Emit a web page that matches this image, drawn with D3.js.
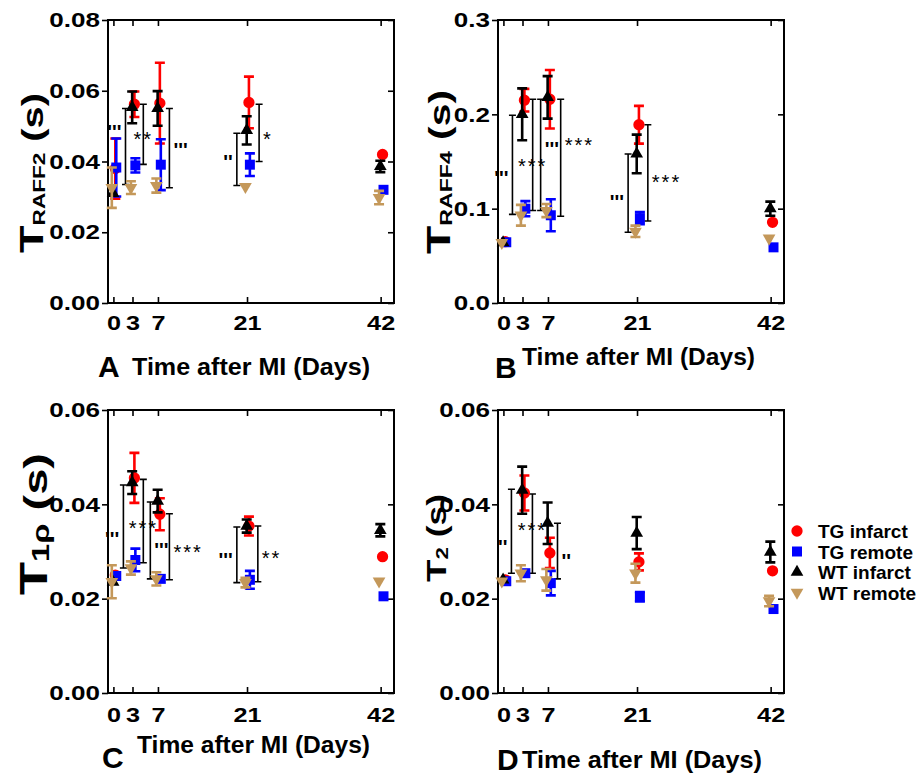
<!DOCTYPE html>
<html lang="en">
<head>
<meta charset="utf-8">
<title>Relaxation times after MI</title>
<script src="https://cdn.jsdelivr.net/npm/d3@7"></script>
<style>
  body { margin: 0; background: #fff; }
  text { font-family: "Liberation Sans", Arial, Helvetica, sans-serif; }
</style>
</head>
<body>
<script>
// ---- data ----
var days = [0, 3, 7, 21, 42];
var seriesNames = ["TG infarct", "TG remote", "WT infarct", "WT remote"];
var seriesColors = ["#ff0000", "#0000ff", "#000000", "#c4985a"];
var seriesShift = [0.3, 0.45, -0.05, -0.25]; // small horizontal jitter (days)

// A: T_RAFF2
var raff2TGinf = [0.038, 0.0562, 0.0565, 0.0567, 0.042];
var raff2TGinfErr = [0.0085, 0.0036, 0.0114, 0.0073, 0];
var raff2TGrem = [0.0383, 0.0389, 0.0391, 0.0391, 0.032];
var raff2TGremErr = [0.0082, 0.002, 0.0072, 0.0032, 0];
var raff2WTinf = [0.031, 0.0553, 0.055, 0.0488, 0.0386];
var raff2WTinfErr = [0, 0.0045, 0.0049, 0.004, 0.0016];
var raff2WTrem = [0.0326, 0.0326, 0.0332, 0.0329, 0.0298];
var raff2WTremErr = [0.0057, 0.0018, 0.002, 0, 0.0019];
var raff2Ticks = [0, 0.02, 0.04, 0.06, 0.08];
// [day, low, high, label, labelValue, side]
var raff2Brackets = [
  [1.9, 0.0335, 0.055, "'''", 0.0494, "l"],
  [4.7, 0.0392, 0.0562, "**", 0.0474, "c"],
  [8.8, 0.0326, 0.055, "'''", 0.0445, "r"],
  [19.4, 0.0332, 0.048, "''", 0.041, "l"],
  [22.9, 0.040, 0.0562, "*", 0.0474, "r"]
];

// B: T_RAFF4
var raff4TGinf = [0.065, 0.215, 0.216, 0.189, 0.0855];
var raff4TGinfErr = [0, 0.012, 0.031, 0.020, 0];
var raff4TGrem = [0.0644, 0.100, 0.093, 0.090, 0.059];
var raff4TGremErr = [0, 0.008, 0.017, 0.0065, 0];
var raff4WTinf = [0.064, 0.200, 0.218, 0.158, 0.100];
var raff4WTinfErr = [0, 0.0275, 0.0225, 0.0205, 0.0075];
var raff4WTrem = [0.064, 0.093, 0.098, 0.076, 0.0686];
var raff4WTremErr = [0, 0.011, 0.007, 0.006, 0];
var raff4Ticks = [0, 0.1, 0.2, 0.3];
var raff4Brackets = [
  [1.42, 0.094, 0.199, "'''", 0.137, "l"],
  [4.6, 0.098, 0.216, "***", 0.150, "c"],
  [5.85, 0.098, 0.216, "'''", 0.167, "r"],
  [9.0, 0.092, 0.216, "***", 0.172, "r"],
  [19.6, 0.075, 0.158, "'''", 0.111, "l"],
  [22.7, 0.087, 0.189, "***", 0.133, "r"]
];

// C: T_1rho
var t1rTGinf = [0.025, 0.0456, 0.0379, 0.0354, 0.0289];
var t1rTGinfErr = [0, 0.0053, 0.0034, 0.002, 0];
var t1rTGrem = [0.0248, 0.0282, 0.0242, 0.024, 0.0205];
var t1rTGremErr = [0, 0.0024, 0, 0.0019, 0];
var t1rWTinf = [0.0235, 0.0446, 0.0407, 0.0354, 0.0345];
var t1rWTinfErr = [0, 0.0024, 0.0024, 0.0014, 0.0013];
var t1rWTrem = [0.0236, 0.0265, 0.0242, 0.0234, 0.0237];
var t1rWTremErr = [0.0035, 0.0014, 0.0014, 0.001, 0];
var t1rTicks = [0, 0.02, 0.04, 0.06];
var t1rBrackets = [
  [1.57, 0.0265, 0.0441, "'''", 0.0335, "l"],
  [4.7, 0.0276, 0.0453, "***", 0.0358, "c"],
  [5.8, 0.0242, 0.0405, "'''", 0.0312, "r"],
  [8.8, 0.024, 0.038, "***", 0.0307, "r"],
  [19.4, 0.0234, 0.0352, "'''", 0.029, "l"],
  [22.7, 0.0236, 0.0354, "**", 0.0295, "r"]
];

// D: T2
var t2TGinf = [0.024, 0.0424, 0.0297, 0.0278, 0.0259];
var t2TGinfErr = [0, 0.0037, 0.0032, 0.0018, 0];
var t2TGrem = [0.0237, 0.0254, 0.0233, 0.0204, 0.0178];
var t2TGremErr = [0, 0, 0.0026, 0.001, 0];
var t2WTinf = [0.024, 0.043, 0.036, 0.0339, 0.0299];
var t2WTinfErr = [0, 0.005, 0.0044, 0.0034, 0.0022];
var t2WTrem = [0.0237, 0.0254, 0.024, 0.0254, 0.0195];
var t2WTremErr = [0, 0.0017, 0.0023, 0.002, 0.0011];
var t2Ticks = [0, 0.02, 0.04, 0.06];
var t2Brackets = [
  [1.26, 0.0254, 0.0432, "''", 0.0318, "l"],
  [4.56, 0.0254, 0.0422, "***", 0.0354, "c"],
  [8.5, 0.0242, 0.036, "''", 0.0288, "r"]
];

// ---- layout ----
var w = 921, h = 775;
var svg = d3.select("body").append("svg").attr("width", w).attr("height", h);

var panels = [
  { letter: "A", means: [raff2TGinf, raff2TGrem, raff2WTinf, raff2WTrem],
    errs: [raff2TGinfErr, raff2TGremErr, raff2WTinfErr, raff2WTremErr],
    ticks: raff2Ticks, fmt: ".2f", brackets: raff2Brackets,
    left: 108, right: 394, top: 20, bottom: 303, padX: 12,
    title: { sub: "RAFF2", big: 34, small: 17, rest: 30, x: 43, y: 173, len: 160 },
    xt: { lx: 98, ly: 377, tx: 132, ty: 375, len: 238 } },
  { letter: "B", means: [raff4TGinf, raff4TGrem, raff4WTinf, raff4WTrem],
    errs: [raff4TGinfErr, raff4TGremErr, raff4WTinfErr, raff4WTremErr],
    ticks: raff4Ticks, fmt: ".1f", brackets: raff4Brackets,
    left: 498, right: 784, top: 20, bottom: 303, padX: 12,
    title: { sub: "RAFF4", big: 34, small: 17, rest: 30, x: 450, y: 172, len: 164 },
    xt: { lx: 495, ly: 378, tx: 522, ty: 365, len: 233 } },
  { letter: "C", means: [t1rTGinf, t1rTGrem, t1rWTinf, t1rWTrem],
    errs: [t1rTGinfErr, t1rTGremErr, t1rWTinfErr, t1rWTremErr],
    ticks: t1rTicks, fmt: ".2f", brackets: t1rBrackets,
    left: 108, right: 394, top: 410, bottom: 693, padX: 14,
    title: { sub: "1\u03C1", big: 38, small: 23, rest: 33, x: 47, y: 524, len: 142 },
    xt: { lx: 102, ly: 768, tx: 137, ty: 753, len: 233 } },
  { letter: "D", means: [t2TGinf, t2TGrem, t2WTinf, t2WTrem],
    errs: [t2TGinfErr, t2TGremErr, t2WTinfErr, t2WTremErr],
    ticks: t2Ticks, fmt: ".2f", brackets: t2Brackets,
    left: 498, right: 784, top: 410, bottom: 693, padX: 14,
    title: { sub: "2", big: 28, small: 17, rest: 27, x: 446, y: 538, len: 88 },
    xt: { lx: 497, ly: 770, tx: 522, ty: 768, len: 240 } }
];

var symbolTypes = [d3.symbolCircle, d3.symbolSquare, d3.symbolTriangle, d3.symbolTriangle];
var symbolSizes = [100, 100, 70, 70];
var symbolRot = [0, 0, 0, 180];

function stretch(sel, k) {
  sel.each(function() {
    var L = this.getComputedTextLength();
    d3.select(this).attr("textLength", L * k).attr("lengthAdjust", "spacingAndGlyphs");
  });
}

panels.forEach(function(p) {
  var x = d3.scaleLinear().domain([-0.85, 44.1]).range([p.left, p.right]);
  var y = d3.scaleLinear().domain([0, p.ticks[p.ticks.length - 1]]).range([p.bottom, p.top]);
  var g = svg.append("g");

  // axes (ticks on all four sides, labels left and bottom)
  var ax = g.append("g").attr("transform", "translate(" + p.left + ",0)")
    .call(d3.axisLeft(y).tickValues(p.ticks).tickFormat(d3.format(p.fmt)).tickSizeOuter(0).tickSize(6).tickPadding(2));
  g.append("g").attr("transform", "translate(" + p.right + ",0)")
    .call(d3.axisRight(y).tickValues(p.ticks).tickFormat("").tickSizeOuter(0).tickSize(-6));
  var bx = g.append("g").attr("transform", "translate(0," + p.bottom + ")")
    .call(d3.axisBottom(x).tickValues(days).tickFormat(d3.format("d")).tickSizeOuter(0).tickSize(-6).tickPadding(p.padX));
  g.append("g").attr("transform", "translate(0," + p.top + ")")
    .call(d3.axisTop(x).tickValues(days).tickFormat("").tickSizeOuter(0).tickSize(-6));
  g.selectAll(".domain").remove();
  g.selectAll(".tick line").attr("stroke", "#000").attr("stroke-width", 1.6);
  ax.selectAll("text").attr("font-size", 21).attr("font-weight", "bold").attr("fill", "#000");
  bx.selectAll("text").attr("font-size", 21).attr("font-weight", "bold").attr("fill", "#000");
  stretch(ax.selectAll("text"), 1.24);
  stretch(bx.selectAll("text"), 1.2);

  g.append("rect")
    .attr("x", p.left).attr("y", p.top)
    .attr("width", p.right - p.left).attr("height", p.bottom - p.top)
    .attr("fill", "none").attr("stroke", "#000").attr("stroke-width", 2);

  // significance brackets
  var br = g.append("g").selectAll("g").data(p.brackets).enter().append("g");
  br.append("path")
    .attr("d", function(d) {
      var xx = x(d[0]), y1 = y(d[1]), y2 = y(d[2]);
      return "M" + (xx - 3.5) + "," + y1 + "H" + (xx + 3.5) +
             "M" + xx + "," + y1 + "V" + y2 +
             "M" + (xx - 3.5) + "," + y2 + "H" + (xx + 3.5);
    })
    .attr("stroke", "#000").attr("stroke-width", 1.6).attr("fill", "none");
  br.append("text")
    .attr("x", function(d) { return d[5] === "l" ? x(d[0]) - 4 : d[5] === "r" ? x(d[0]) + 4 : x(d[0]); })
    .attr("y", function(d) { return y(d[4]) + 11; })
    .attr("text-anchor", function(d) { return d[5] === "l" ? "end" : d[5] === "r" ? "start" : "middle"; })
    .attr("font-size", 20)
    .attr("font-weight", function(d) { return d[3].indexOf("*") >= 0 ? "normal" : "bold"; })
    .attr("letter-spacing", function(d) { return d[3].indexOf("*") >= 0 ? 2 : 0; })
    .text(function(d) { return d[3]; });

  // series: error bars then markers
  p.means.forEach(function(m, si) {
    var pts = days.map(function(dd, i) { return { d: dd, v: m[i], e: p.errs[si][i] }; });
    var sg = g.append("g");
    sg.selectAll("path.err").data(pts.filter(function(q) { return q.e > 0; })).enter()
      .append("path").attr("class", "err")
      .attr("d", function(q) {
        var xx = x(q.d + seriesShift[si]), y1 = y(q.v - q.e), y2 = y(q.v + q.e);
        return "M" + (xx - 5) + "," + y1 + "H" + (xx + 5) +
               "M" + xx + "," + y1 + "V" + y2 +
               "M" + (xx - 5) + "," + y2 + "H" + (xx + 5);
      })
      .attr("stroke", seriesColors[si]).attr("stroke-width", 2.6).attr("fill", "none");
    sg.selectAll("path.mk").data(pts).enter()
      .append("path").attr("class", "mk")
      .attr("d", d3.symbol().type(symbolTypes[si]).size(symbolSizes[si]))
      .attr("transform", function(q) {
        return "translate(" + x(q.d + seriesShift[si]) + "," + y(q.v) + ") rotate(" + symbolRot[si] + ")";
      })
      .attr("fill", seriesColors[si]);
  });

  // y title
  var t = p.title;
  var yt = g.append("text")
    .attr("transform", "translate(" + t.x + "," + t.y + ") rotate(-90)")
    .attr("text-anchor", "middle").attr("font-weight", "bold").attr("fill", "#000");
  yt.append("tspan").attr("font-size", t.big).text("T");
  yt.append("tspan").attr("font-size", t.small).attr("dy", 2).text(t.sub);
  yt.append("tspan").attr("font-size", t.rest).attr("dy", -2).text(" (s)");
  yt.attr("textLength", t.len).attr("lengthAdjust", "spacingAndGlyphs");

  // x title
  var xt = p.xt;
  g.append("text").attr("x", xt.lx).attr("y", xt.ly)
    .attr("font-size", 30).attr("font-weight", "bold").text(p.letter);
  g.append("text").attr("x", xt.tx).attr("y", xt.ty)
    .attr("font-size", 23).attr("font-weight", "bold")
    .attr("textLength", xt.len).attr("lengthAdjust", "spacingAndGlyphs")
    .text("Time after MI (Days)");
});

// legend
var lg = svg.append("g").selectAll("g").data(seriesNames).enter().append("g")
  .attr("transform", function(d, i) { return "translate(797," + (531 + i * 20.5) + ")"; });
lg.append("path")
  .attr("d", function(d, i) { return d3.symbol().type(symbolTypes[i]).size(symbolSizes[i])(); })
  .attr("transform", function(d, i) { return "rotate(" + symbolRot[i] + ")"; })
  .attr("fill", function(d, i) { return seriesColors[i]; });
lg.append("text").attr("x", 21).attr("y", 7)
  .attr("font-size", 19).attr("font-weight", "bold").text(function(d) { return d; });
</script>
</body>
</html>
